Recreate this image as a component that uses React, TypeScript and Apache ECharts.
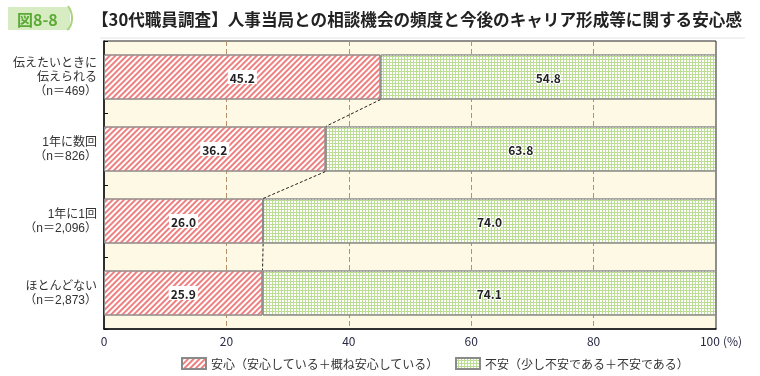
import React, { useEffect, useRef } from "react";
import * as echarts from "echarts";

const categories = [
  "伝えたいときに\n伝えられる\n（n＝469）",
  "1年に数回\n（n＝826）",
  "1年に1回\n（n＝2,096）",
  "ほとんどない\n（n＝2,873）",
];
const anshin = [45.2, 36.2, 26.0, 25.9];
const fuan = [54.8, 63.8, 74.0, 74.1];
const seriesNames = ["安心（安心している＋概ね安心している）", "不安（少し不安である＋不安である）"];
const xTicks = [0, 20, 40, 60, 80, 100];
const unitText = "(%)";
const titleText = "【30代職員調査】人事当局との相談機会の頻度と今後のキャリア形成等に関する安心感";
const badgeText = "図8-8";

const FONT = "'Noto Sans CJK JP', 'Noto Sans', sans-serif";
const LABEL_FONT = "'Liberation Sans', 'Noto Sans CJK JP', sans-serif";
const BAR_RATIO = 0.625;

export default function App() {
  const ref = useRef<HTMLDivElement>(null);
  useEffect(() => {
    if (!ref.current) return;
    const chart = echarts.init(ref.current, null, { renderer: "svg" });
    const connectors = anshin.slice(0, -1).map((v, i) => [v, i, anshin[i + 1]]);
    const maxTick = xTicks[xTicks.length - 1];
    chart.setOption({
      animation: false,
      textStyle: { fontFamily: FONT },
      graphic: [
        { type: "rect", shape: { x: 8, y: 7, width: 62, height: 23 }, style: { fill: "#d8ecc4" } },
        {
          type: "bezierCurve",
          shape: { x1: 68, y1: 6, x2: 67, y2: 30, cpx1: 74, cpy1: 14, cpx2: 73, cpy2: 26 },
          style: { stroke: "#a9d47e", lineWidth: 2, fill: null },
        },
        {
          type: "text",
          x: 17,
          y: 19,
          style: { text: badgeText, fill: "#5aaa34", font: `bold 16px ${FONT}`, verticalAlign: "middle" },
        },
        {
          type: "text",
          x: 92,
          y: 19,
          style: { text: titleText, fill: "#222", font: `bold 16.6px ${FONT}`, verticalAlign: "middle" },
        },
        { type: "line", shape: { x1: 100, y1: 38, x2: 745, y2: 38 }, style: { stroke: "#e4e4e4", lineWidth: 1 } },
      ],
      grid: {
        left: 104,
        right: 44,
        top: 41,
        bottom: 47,
        outerBoundsMode: "none",
        containLabel: false,
        show: true,
        backgroundColor: "#fef9e4",
        borderColor: "#222",
        borderWidth: 1,
      },
      legend: {
        left: 176,
        top: 352,
        icon: "rect",
        itemWidth: 24,
        itemHeight: 11,
        itemGap: 16,
        data: seriesNames,
        textStyle: { fontSize: 12, color: "#333", fontFamily: FONT },
      },
      xAxis: {
        type: "value",
        min: 0,
        max: 100,
        interval: 20,
        axisLine: { show: true, lineStyle: { color: "#111", width: 1.5 } },
        axisTick: { show: false },
        axisLabel: {
          color: "#2a2a44",
          fontSize: 12,
          margin: 5,
          formatter: (v: number) =>
            v === maxTick ? `{n|${v}}{u|${unitText}}` : xTicks.includes(v) ? String(v) : "",
          rich: {
            n: { color: "#2a2a44", fontSize: 12, padding: [0, 0, 0, 10] },
            u: { color: "#2a2a44", fontSize: 12, padding: [0, 0, 0, 3] },
          },
        },
        splitLine: {
          show: true,
          showMinLine: false,
          showMaxLine: false,
          lineStyle: { color: "#b8906a", type: [5, 3], width: 1 },
        },
      },
      yAxis: {
        type: "category",
        inverse: true,
        data: categories,
        axisLine: { show: true, lineStyle: { color: "#111", width: 1.5 } },
        axisTick: { show: true, inside: true, length: 4, lineStyle: { color: "#111" } },
        axisLabel: {
          color: "#333",
          fontSize: 12,
          lineHeight: 14,
          margin: 7,
          align: "right",
          fontFamily: LABEL_FONT,
        },
        splitLine: { show: false },
      },
      series: [
        {
          name: seriesNames[0],
          type: "bar",
          stack: "total",
          barWidth: `${BAR_RATIO * 100}%`,
          data: anshin,
          itemStyle: {
            color: "#ffffff",
            borderColor: "#8a8a8a",
            borderWidth: 1,
            decal: {
              symbol: "rect",
              symbolSize: 1,
              color: "#ee8080",
              dashArrayX: [1, 0],
              dashArrayY: [2, 2],
              rotation: -Math.PI / 4,
            },
          },
          label: {
            show: true,
            position: "inside",
            formatter: (p: any) => p.value.toFixed(1),
            color: "#222",
            fontSize: 12,
            fontWeight: 600,
            backgroundColor: "#ffffff",
            padding: [1, 2],
          },
        },
        {
          name: seriesNames[1],
          type: "bar",
          stack: "total",
          barWidth: `${BAR_RATIO * 100}%`,
          data: fuan,
          itemStyle: {
            color: "#bddc94",
            borderColor: "#8a8a8a",
            borderWidth: 1,
            decal: {
              symbol: "rect",
              symbolSize: 1,
              color: "#ffffff",
              dashArrayX: [2, 1],
              dashArrayY: [2, 1],
              rotation: 0,
            },
          },
          label: {
            show: true,
            position: "inside",
            formatter: (p: any) => p.value.toFixed(1),
            color: "#222",
            fontSize: 12,
            fontWeight: 600,
            textBorderColor: "#ffffff",
            textBorderWidth: 2,
          },
        },
        {
          type: "custom",
          silent: true,
          z: 5,
          data: connectors,
          encode: { x: 0, y: 1 },
          renderItem: (params: any, api: any) => {
            const v0 = api.value(0);
            const idx = api.value(1);
            const v1 = api.value(2);
            const band = api.size([0, 1])[1];
            const half = (band * BAR_RATIO) / 2;
            const p0 = api.coord([v0, idx]);
            const p1 = api.coord([v1, idx + 1]);
            return {
              type: "line",
              shape: { x1: p0[0], y1: p0[1] + half, x2: p1[0], y2: p1[1] - half },
              style: { stroke: "#222", lineWidth: 1, lineDash: [3, 2] },
            };
          },
        },
      ],
    });
    return () => chart.dispose();
  }, []);
  return (
    <div
      ref={ref}
      style={{ position: "fixed", left: 0, top: 0, width: 760, height: 376, overflow: "hidden" }}
    />
  );
}
